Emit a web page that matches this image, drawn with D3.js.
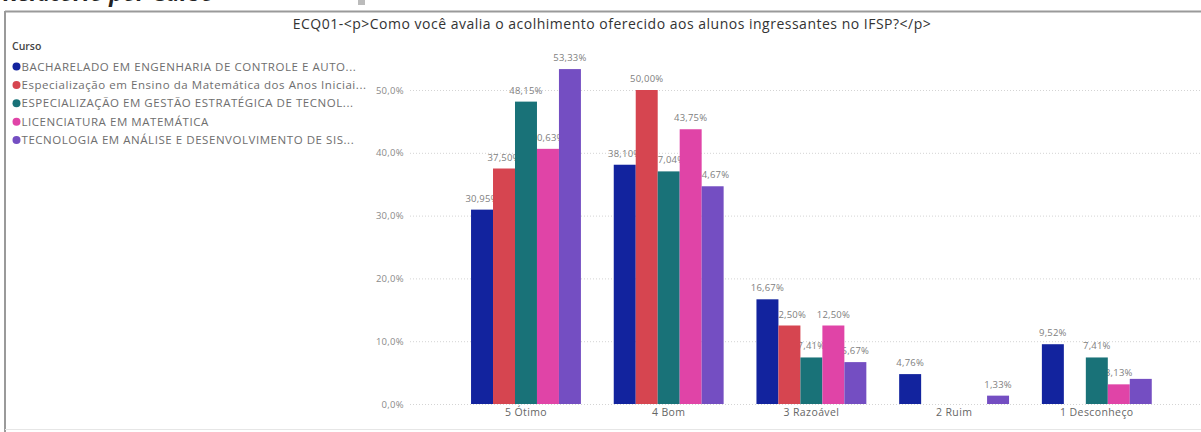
<!DOCTYPE html>
<html>
<head>
<meta charset="utf-8">
<script src="https://cdn.jsdelivr.net/npm/d3@7"></script>
<style>
  html, body { margin: 0; padding: 0; background: #fff; }
  svg { display: block; }
  text { font-family: "Open Sans", "Noto Sans", sans-serif; }
</style>
</head>
<body>
<svg id="chart" width="1201" height="432"></svg>
<script>
// Answer categories (x axis)
const categories = ["5 Ótimo", "4 Bom", "3 Razoável", "2 Ruim", "1 Desconheço"];

// Courses (legend / series)
const courses = [
  "BACHARELADO EM ENGENHARIA DE CONTROLE E AUTO...",
  "Especialização em Ensino da Matemática dos Anos Iniciai...",
  "ESPECIALIZAÇÃO EM GESTÃO ESTRATÉGICA DE TECNOL...",
  "LICENCIATURA EM MATEMÁTICA",
  "TECNOLOGIA EM ANÁLISE E DESENVOLVIMENTO DE SIS..."
];

// Percent of respondents per category, one array per course (null = no answers)
const bacharelado   = [30.95, 38.10, 16.67, 4.76, 9.52];
const especMat      = [37.50, 50.00, 12.50, null, null];
const especGestao   = [48.15, 37.04, 7.41, null, 7.41];
const licenciatura  = [40.63, 43.75, 12.50, null, 3.13];
const tecnologia    = [53.33, 34.67, 6.67, 1.33, 4.00];

// Which values carry a data label
const labelled = [
  [true, true, true, true, true],
  [true, true, true, false, false],
  [true, true, true, false, true],
  [true, true, true, false, true],
  [true, true, true, true, false]
];

const yTicks = [0, 10, 20, 30, 40, 50];
const colors = ["#12239E", "#D64550", "#197278", "#E044A7", "#744EC2"];

const seriesValues = [bacharelado, especMat, especGestao, licenciatura, tecnologia];

const svg = d3.select("#chart");
const fmtPct = v => d3.format(".2f")(v).replace(".", ",") + "%";
const fmtTick = v => d3.format(".1f")(v).replace(".", ",") + "%";

// Page header (runs off the top edge of the page) and visual frame
svg.append("text")
  .attr("x", 3).attr("y", 0.5)
  .attr("font-size", 23).attr("font-weight", "bold").attr("font-style", "italic")
  .attr("fill", "#222")
  .text("Relatório por Curso");
svg.append("rect").attr("x", 358).attr("y", 0).attr("width", 7).attr("height", 5).attr("fill", "#bbb");

svg.append("line").attr("x1", 5).attr("x2", 1201).attr("y1", 11.5).attr("y2", 11.5)
  .attr("stroke", "#9a9a9a").attr("stroke-width", 2);
svg.append("line").attr("x1", 5).attr("x2", 5).attr("y1", 11).attr("y2", 432)
  .attr("stroke", "#9a9a9a").attr("stroke-width", 2);
svg.append("line").attr("x1", 5).attr("x2", 1201).attr("y1", 429.5).attr("y2", 429.5)
  .attr("stroke", "#e6e6e6").attr("stroke-width", 1);

// Title
svg.append("text")
  .attr("x", 612).attr("y", 29)
  .attr("text-anchor", "middle")
  .attr("font-size", 14)
  .attr("letter-spacing", 0.5)
  .attr("fill", "#333")
  .text("ECQ01-<p>Como você avalia o acolhimento oferecido aos alunos ingressantes no IFSP?</p>");

// Legend
const legend = svg.append("g");
legend.append("text")
  .attr("x", 12).attr("y", 50)
  .attr("font-size", 10.5).attr("font-weight", 600).attr("fill", "#444")
  .text("Curso");
courses.forEach((c, i) => {
  const y = 66.5 + i * 18.4;
  legend.append("circle").attr("cx", 16.5).attr("cy", y).attr("r", 4).attr("fill", colors[i]);
  legend.append("text")
    .attr("x", 21.5).attr("y", y + 4)
    .attr("font-size", 11.5).attr("letter-spacing", 0.55).attr("fill", "#6e6e6e")
    .text(c);
});

// Scales
const x = d3.scaleBand().domain(categories).range([442.5, 1180.3]).paddingInner(0.23).paddingOuter(0.2);
const xs = d3.scaleBand().domain(d3.range(courses.length)).range([0, x.bandwidth()]);
const y = d3.scaleLinear().domain([0, 55]).range([404, 404 - 55 * 6.28]);

// Gridlines
svg.append("g").selectAll("line").data(yTicks).join("line")
  .attr("x1", 410).attr("x2", 1201)
  .attr("y1", d => y(d) + 0.5).attr("y2", d => y(d) + 0.5)
  .attr("stroke", "#d4d4d4").attr("stroke-dasharray", "1,2");

// Y axis
const yAxis = svg.append("g").attr("transform", "translate(404,0)")
  .call(d3.axisLeft(y).tickValues(yTicks).tickFormat(fmtTick).tickSize(0).tickPadding(0));
yAxis.select(".domain").remove();
yAxis.selectAll("text").attr("font-size", 9.5).attr("letter-spacing", 0.3).attr("fill", "#8a8a8a")
  .attr("font-family", "'Open Sans', sans-serif");

// X axis
const xAxis = svg.append("g").attr("transform", "translate(0,405)")
  .call(d3.axisBottom(x).tickSize(0).tickPadding(4));
xAxis.select(".domain").remove();
xAxis.selectAll("text").attr("font-size", 10.5).attr("letter-spacing", 0.4).attr("fill", "#666")
  .attr("font-family", "'Open Sans', sans-serif");

// Flatten series into marks
const marks = [];
seriesValues.forEach((vals, s) => {
  vals.forEach((v, c) => {
    if (v !== null) marks.push({ s, c, v, label: labelled[s][c] });
  });
});

// Data labels sit beneath the bars so neighbouring bars overlap them
svg.append("g").selectAll("text").data(marks.filter(d => d.label)).join("text")
  .attr("x", d => x(categories[d.c]) + xs(d.s) + xs.bandwidth() / 2)
  .attr("y", d => y(d.v) - 8)
  .attr("text-anchor", "middle")
  .attr("font-size", 9.5)
  .attr("letter-spacing", 0.2)
  .attr("fill", "#808080")
  .text(d => fmtPct(d.v));

// Bars
svg.append("g").selectAll("rect").data(marks).join("rect")
  .attr("x", d => x(categories[d.c]) + xs(d.s))
  .attr("width", xs.bandwidth())
  .attr("y", d => y(d.v))
  .attr("height", d => y(0) - y(d.v))
  .attr("fill", d => colors[d.s]);
</script>
</body>
</html>
